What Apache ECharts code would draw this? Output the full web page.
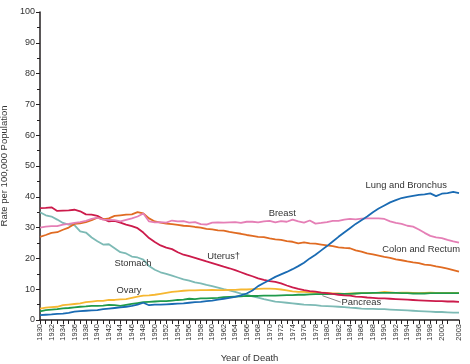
<!DOCTYPE html>
<html><head><meta charset="utf-8">
<script src="https://cdn.jsdelivr.net/npm/echarts@6/dist/echarts.min.js"></script>
<style>html,body{margin:0;padding:0;background:#fff}#c{width:470px;height:364px}</style>
</head><body><div id="c"></div>
<script>
const startYear = 1930, endYear = 2003;
const years = [];
for (let y = startYear; y <= endYear; y++) years.push(y);

const lung = [1.6,1.7,1.8,2.0,2.1,2.3,2.7,2.9,3.0,3.1,3.2,3.5,3.7,3.9,4.1,4.3,4.6,5.0,5.6,4.8,5.0,5.0,5.1,5.2,5.3,5.4,5.6,5.8,5.9,6.1,6.3,6.6,6.9,7.2,7.5,8.0,8.6,9.6,11.0,12.0,13.0,14.0,14.8,15.6,16.5,17.5,18.6,20.0,21.2,22.6,24.0,25.5,27.0,28.4,29.8,31.2,32.4,33.6,35.0,36.2,37.2,38.2,38.9,39.6,40.0,40.3,40.6,40.8,41.1,40.2,41.0,41.2,41.6,41.2];
const stomach = [35.0,34.0,33.6,32.6,31.5,31.0,30.8,28.8,28.4,26.8,25.6,24.5,24.6,23.3,22.0,21.6,20.6,20.3,19.6,17.5,16.3,15.5,15.0,14.4,13.8,13.2,12.8,12.2,11.9,11.4,11.0,10.5,10.0,9.6,9.1,8.6,8.2,7.7,7.3,6.8,6.4,6.0,5.8,5.6,5.4,5.2,5.0,4.9,4.8,4.6,4.5,4.4,4.3,4.2,4.0,3.9,3.7,3.6,3.6,3.5,3.5,3.4,3.3,3.2,3.1,3.0,2.9,2.8,2.7,2.6,2.6,2.5,2.4,2.4];
const breast = [30.0,30.3,30.5,30.5,31.0,31.2,31.5,31.8,32.2,32.8,33.2,32.6,32.5,32.4,32.0,32.5,33.0,33.6,34.6,32.0,31.7,31.8,31.6,32.3,32.0,32.1,31.6,31.8,31.1,31.0,31.6,31.7,31.6,31.7,31.8,31.5,31.9,31.9,31.7,32.0,32.2,31.7,32.1,31.9,32.6,32.0,31.6,32.3,31.3,31.5,31.8,32.2,32.2,32.6,32.8,32.7,32.9,33.0,33.0,33.0,32.8,32.0,31.5,31.2,30.6,30.3,29.4,28.3,27.3,26.8,26.6,26.0,25.5,25.1];
const colon = [27.0,27.6,28.3,28.5,29.3,30.0,31.2,31.4,31.8,32.4,33.2,32.7,33.0,33.8,34.0,34.2,34.3,35.0,34.6,33.0,32.0,31.6,31.3,31.1,30.9,30.6,30.5,30.2,30.0,29.6,29.4,29.1,29.0,28.6,28.3,28.0,27.6,27.3,27.0,26.9,26.5,26.2,26.0,25.6,25.4,24.9,25.2,24.9,24.8,24.5,24.2,24.0,23.6,23.4,23.3,22.6,22.2,21.6,21.3,20.9,20.5,20.2,19.7,19.4,19.0,18.7,18.5,18.0,17.8,17.4,17.1,16.7,16.2,15.7];
const uterus = [36.3,36.4,36.6,35.4,35.5,35.6,35.8,35.3,34.3,34.2,33.8,32.8,32.0,32.2,31.6,31.0,30.5,29.8,28.4,26.6,25.3,24.2,23.5,23.0,22.0,21.2,20.7,20.2,19.6,19.0,18.5,17.9,17.3,16.8,16.2,15.5,14.8,14.2,13.5,13.0,12.6,12.4,11.9,11.2,10.6,10.1,9.7,9.4,9.2,8.9,8.7,8.5,8.2,8.0,7.9,7.6,7.5,7.3,7.2,7.0,7.0,6.9,6.8,6.7,6.6,6.5,6.4,6.3,6.2,6.1,6.1,6.0,6.0,5.9];
const ovary = [3.7,4.0,4.2,4.3,4.8,5.0,5.2,5.4,5.8,6.0,6.2,6.2,6.5,6.5,6.7,6.8,7.2,7.6,7.9,8.0,8.2,8.5,8.8,9.1,9.3,9.5,9.6,9.6,9.7,9.7,9.8,9.7,9.7,9.8,9.8,9.9,9.9,10.0,10.1,10.2,10.2,10.1,9.9,9.6,9.3,9.1,9.1,9.0,8.9,8.9,8.8,8.6,8.6,8.5,8.6,8.6,8.7,8.8,8.7,8.9,9.1,9.0,8.8,8.9,8.9,8.8,8.7,8.8,8.9,8.8,8.8,8.8,8.8,8.8];
const pancreas = [2.8,3.2,3.4,3.5,3.8,3.9,4.1,4.3,4.4,4.6,4.6,4.7,4.9,4.8,4.6,4.9,5.2,5.5,5.8,5.9,6.0,6.1,6.1,6.3,6.5,6.6,6.9,6.8,7.0,7.0,7.1,7.2,7.4,7.5,7.6,7.7,7.8,7.8,7.8,7.9,7.9,7.9,8.0,8.1,8.1,8.2,8.2,8.3,8.4,8.4,8.4,8.5,8.5,8.5,8.5,8.6,8.7,8.7,8.8,8.8,8.8,8.8,8.8,8.7,8.7,8.6,8.6,8.6,8.7,8.7,8.7,8.7,8.7,8.7];

const yTicks = [0,10,20,30,40,50,60,70,80,90,100];

const labelFont = 'Liberation Sans, Arial, sans-serif';
function pairs(arr){ return years.map((y,i)=>[y,arr[i]]); }
function tag(text, coord){
  return {
    symbol:'circle', symbolSize:0, silent:true,
    label:{show:true, position:'inside', color:'#333', fontSize:9.4, fontFamily:labelFont},
    data:[{coord:coord, value:text, label:{formatter:text}}]
  };
}
function line(name, arr, color, tg, extra){
  const s = {name:name, type:'line', data:pairs(arr), showSymbol:false, symbol:'none', smooth:false,
    lineStyle:{color:color, width:1.8}, itemStyle:{color:color}, z:3, animation:false};
  if (tg) s.markPoint = tg;
  if (extra) Object.assign(s, extra);
  return s;
}
const chart = echarts.init(document.getElementById('c'), null, {renderer:'canvas'});
chart.setOption({
  animation:false,
  backgroundColor:'#fff',
  grid:{left:40, right:11, top:12, bottom:44, containLabel:false, outerBoundsMode:'none'},
  xAxis:{type:'value', min:startYear, max:endYear, interval:1,
    name:'Year of Death', nameLocation:'middle', nameGap:33,
    nameTextStyle:{color:'#333', fontSize:9.5, fontFamily:labelFont},
    axisLine:{lineStyle:{color:'#231f20', width:1.5}},
    axisTick:{length:4, lineStyle:{color:'#231f20', width:1}},
    splitLine:{show:false},
    axisLabel:{rotate:90, fontSize:7.5, color:'#333', fontFamily:labelFont, margin:4, hideOverlap:false,
      showMaxLabel:true, showMinLabel:true,
      formatter:function(v){ return (v%2===0 || v===endYear) ? String(v) : ''; }}
  },
  yAxis:{type:'value', min:0, max:100, interval:10,
    name:'Rate per 100,000 Population', nameLocation:'middle', nameGap:23,
    nameTextStyle:{color:'#333', fontSize:9.5, fontFamily:labelFont},
    axisLine:{show:true, lineStyle:{color:'#231f20', width:1.5}},
    axisTick:{show:true, length:4, lineStyle:{color:'#231f20', width:1}},
    minorTick:{show:true, splitNumber:2, length:3, lineStyle:{color:'#231f20', width:1}},
    splitLine:{show:false},
    axisLabel:{fontSize:9, color:'#333', fontFamily:labelFont, margin:5,
      formatter:function(v){ return yTicks.indexOf(v)>=0 ? String(v) : ''; }}
  },
  series:[
    line('Stomach', stomach, '#7dbab5', tag('Stomach',[1946.2,18.5])),
    line('Ovary', ovary, '#f6b731', tag('Ovary',[1945.5,9.7])),
    line('Pancreas', pancreas, '#1f9a4c', tag('Pancreas',[1986.0,5.7]), {
      markLine:{silent:true, symbol:'none', label:{show:false},
        lineStyle:{color:'#888', width:1, type:'solid'},
        data:[[{coord:[1979.2,7.9]},{coord:[1982.4,5.8]}]]}
    }),
    line('Uterus', uterus, '#cc1b4b', tag('Uterus†',[1962.0,20.5])),
    line('Colon and Rectum', colon, '#e06b22', tag('Colon and Rectum',[1996.4,23.0])),
    line('Breast', breast, '#e57fb6', tag('Breast',[1972.2,34.7])),
    line('Lung and Bronchus', lung, '#1a6bb3', tag('Lung and Bronchus',[1993.8,43.8]))
  ]
});
</script></body></html>
